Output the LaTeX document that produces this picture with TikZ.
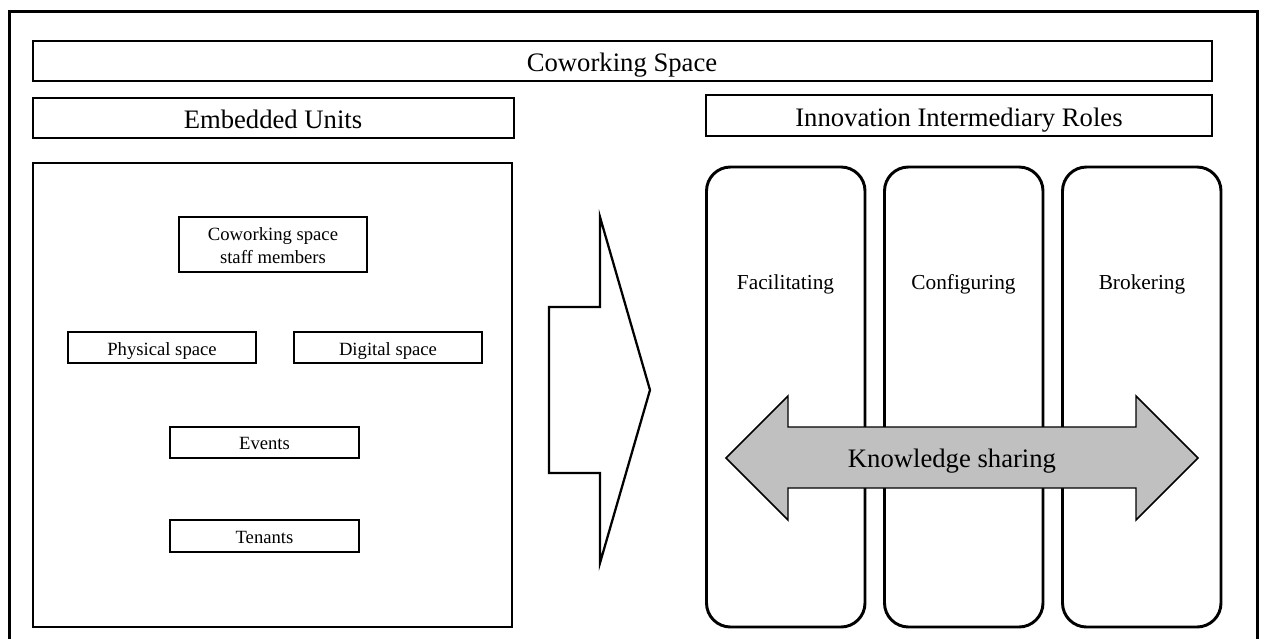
\documentclass[tikz,border=0pt]{standalone}
\usepackage{fontspec}
\setmainfont{Liberation Serif}

\begin{document}
\begin{tikzpicture}[x=0.75pt,y=-0.75pt,
        frame/.style={line width=2.2pt},
        hdrbox/.style={line width=2pt},
        unitbox/.style={line width=1.6pt},
        pillar/.style={line width=2.2pt,rounded corners=18pt},
        hdr/.style={anchor=base,inner sep=0pt,font=\fontsize{20}{24}\selectfont},
        unit/.style={anchor=base,inner sep=0pt,font=\fontsize{14}{17.25}\selectfont},
        role/.style={anchor=base,inner sep=0pt,font=\fontsize{16}{19}\selectfont}]
        \useasboundingbox (0,0) rectangle (1265,639);

        %outer frame
        \draw [frame] (9.5,660)--(9.5,11.5)--(1257.5,11.5)--(1257.5,660);

        %headers
        \draw [hdrbox] (33,41) rectangle (1212,81);
        \node [hdr] (cws) at(622,71) {Coworking Space};
        \draw [hdrbox] (33,98) rectangle (514,138);
        \node [hdr] (emb) at(273,128) {Embedded Units};
        \draw [hdrbox] (706,95) rectangle (1212,136);
        \node [hdr] (iir) at(959,126) {Innovation Intermediary Roles};

        %embedded units
        \draw [frame] (33,163) rectangle (512,627);
        \draw [unitbox] (179,217) rectangle (367,272);
        \node [unit,align=center] (staff) at(273,263) {Coworking space\\staff members};
        \draw [unitbox] (68,332) rectangle (256,363);
        \node [unit] (phys) at(162,355) {Physical space};
        \draw [unitbox] (294,332) rectangle (482,363);
        \node [unit] (digi) at(388,355) {Digital space};
        \draw [unitbox] (170,427) rectangle (359,458);
        \node [unit] (evt) at(264.5,449) {Events};
        \draw [unitbox] (170,520) rectangle (359,552);
        \node [unit] (ten) at(264.5,543) {Tenants};

        %big arrow
        \draw [line width=1.7pt,line join=miter] (549,307)--(600,307)--(600,217)--(650,390)
            --(600,563)--(600,473)--(549,473)--cycle;

        %roles
        \draw [pillar] (706.5,167) rectangle (865,627);
        \node [role] (fac) at(785.5,289) {Facilitating};
        \draw [pillar] (884.5,167) rectangle (1043,627);
        \node [role] (con) at(963.5,289) {Configuring};
        \draw [pillar] (1062.5,167) rectangle (1221,627);
        \node [role] (bro) at(1142,289) {Brokering};

        %knowledge sharing
        \draw [line width=1.1pt,fill={rgb,255:red,192;green,192;blue,192}]
            (726,458)--(788,396)--(788,427)--(1136,427)--(1136,396)--(1198,458)
            --(1136,520)--(1136,488)--(788,488)--(788,520)--cycle;
        \node [anchor=base,inner sep=0pt,font=\fontsize{20}{24}\selectfont] (ks) at(952,467) {Knowledge sharing};
    \end{tikzpicture}
\end{document}
